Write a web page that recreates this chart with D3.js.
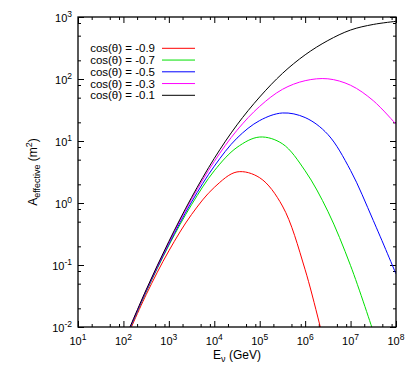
<!DOCTYPE html>
<html><head><meta charset="utf-8">
<script src="https://cdn.jsdelivr.net/npm/d3@7"></script>
<style>
body{margin:0;background:#fff}
svg{display:block;font-family:"Liberation Sans",Arial,Helvetica,sans-serif}
</style>
</head><body>
<svg id="chart" width="415" height="368"></svg>
<script>
// ---- data ----
const energies = [1e2, 3.162e2, 1e3, 3.162e3, 1e4, 3.162e4, 1e5, 3.162e5, 1e6, 3.162e6, 1e7, 3.162e7, 1e8];
const seriesLabels = ["cos(θ) = -0.9", "cos(θ) = -0.7", "cos(θ) = -0.5", "cos(θ) = -0.3", "cos(θ) = -0.1"];
const aCosM09 = [0.00507, 0.0332, 0.169, 0.653, 1.786, 3.170, 2.553, 0.895, 0.0838, 0.00310, null, null, null];
const aCosM07 = [0.00537, 0.0367, 0.2075, 0.940, 3.311, 7.889, 11.59, 9.016, 3.304, 0.7345, 0.0977, 0.00841, null];
const aCosM05 = [0.00545, 0.0376, 0.2168, 1.038, 3.926, 11.12, 21.38, 28.31, 23.88, 12.76, 3.350, 0.5224, 0.0718];
const aCosM03 = [0.00555, 0.0389, 0.2307, 1.148, 4.677, 14.89, 36.22, 68.08, 93.97, 100.7, 79.25, 44.67, 18.62];
const aCosM01 = [0.00562, 0.0398, 0.2399, 1.230, 5.248, 18.20, 51.29, 123.0, 245.5, 416.9, 616.6, 758.6, 851.1];
const xMajorTicks = [1e1, 1e2, 1e3, 1e4, 1e5, 1e6, 1e7, 1e8];
const yMajorTicks = [1e-2, 1e-1, 1e0, 1e1, 1e2, 1e3];
const minorMultipliers = [2, 5, 8];

// ---- styles ----
const colors = ["#ff0000", "#00e000", "#0000ff", "#ff00ff", "#000000"];
const seriesValues = [aCosM09, aCosM07, aCosM05, aCosM03, aCosM01];

const svg = d3.select("#chart");
const L = 78, R = 396, T = 17, B = 327;
const x = d3.scaleLog().domain([1e1, 1e8]).range([L, R]);
const y = d3.scaleLog().domain([1e-2, 1e3]).range([B, T]);

const minorOf = majors => {
  const out = [];
  majors.slice(0, -1).forEach(m => minorMultipliers.forEach(k => out.push(m * k)));
  return out;
};
const xMinor = minorOf(xMajorTicks), yMinor = minorOf(yMajorTicks);

function axisGroup(gen, tx, ty) {
  const g = svg.append("g").attr("transform", `translate(${tx},${ty})`).call(gen);
  g.select(".domain").remove();
  g.selectAll("line").attr("stroke", "#000").attr("stroke-width", 1);
  g.selectAll("text").remove();
  return g;
}
const maj = 6, mnr = 3;
axisGroup(d3.axisBottom(x).tickValues(xMajorTicks).tickSize(-maj).tickSizeOuter(0), 0, B);
axisGroup(d3.axisBottom(x).tickValues(xMinor).tickSize(-mnr).tickSizeOuter(0), 0, B);
axisGroup(d3.axisTop(x).tickValues(xMajorTicks).tickSize(-maj).tickSizeOuter(0), 0, T);
axisGroup(d3.axisTop(x).tickValues(xMinor).tickSize(-mnr).tickSizeOuter(0), 0, T);
axisGroup(d3.axisLeft(y).tickValues(yMajorTicks).tickSize(-maj).tickSizeOuter(0), L, 0);
axisGroup(d3.axisLeft(y).tickValues(yMinor).tickSize(-mnr).tickSizeOuter(0), L, 0);
axisGroup(d3.axisRight(y).tickValues(yMajorTicks).tickSize(-maj).tickSizeOuter(0), R, 0);
axisGroup(d3.axisRight(y).tickValues(yMinor).tickSize(-mnr).tickSizeOuter(0), R, 0);

// tick labels
xMajorTicks.forEach(v => {
  const t = svg.append("text").attr("x", x(v)).attr("y", 345).attr("text-anchor", "middle")
    .attr("font-size", 11).attr("fill", "#000");
  t.append("tspan").text("10");
  t.append("tspan").attr("dy", -5).attr("font-size", 8.5).text(Math.round(Math.log10(v)));
});
yMajorTicks.forEach(v => {
  const t = svg.append("text").attr("x", 72).attr("y", y(v) + 4.5).attr("text-anchor", "end")
    .attr("font-size", 11).attr("fill", "#000");
  t.append("tspan").text("10");
  t.append("tspan").attr("dy", -5).attr("font-size", 8.5).text(Math.round(Math.log10(v)));
});

// axis titles
const xt = svg.append("text").attr("x", 237).attr("y", 359).attr("text-anchor", "middle").attr("font-size", 12);
xt.append("tspan").text("E");
xt.append("tspan").attr("dy", 3).attr("font-size", 9).text("ν");
xt.append("tspan").attr("dy", -3).text(" (GeV)");

const yt = svg.append("text").attr("transform", "translate(37,172) rotate(-90)")
  .attr("text-anchor", "middle").attr("font-size", 12);
yt.append("tspan").text("A");
yt.append("tspan").attr("dy", 3).attr("font-size", 9).text("effective");
yt.append("tspan").attr("dy", -3).text(" (m");
yt.append("tspan").attr("dy", -5).attr("font-size", 9).text("2");
yt.append("tspan").attr("dy", 5).text(")");

// curves
svg.append("clipPath").attr("id", "clip").append("rect")
  .attr("x", L).attr("y", T).attr("width", R - L).attr("height", B - T);
const line = d3.line()
  .defined(d => d[1] != null)
  .x(d => x(d[0])).y(d => y(d[1]))
  .curve(d3.curveCatmullRom.alpha(0.5));
seriesValues.forEach((vals, i) => {
  svg.append("path").attr("clip-path", "url(#clip)")
    .attr("d", line(energies.map((e, j) => [e, vals[j]])))
    .attr("fill", "none").attr("stroke", colors[i]).attr("stroke-width", 1);
});

// legend
seriesLabels.forEach((lab, i) => {
  const cy = 48.3 + i * 11.75;
  svg.append("text").attr("x", 155).attr("y", cy + 4).attr("text-anchor", "end")
    .attr("font-size", 11.5).text(lab);
  svg.append("line").attr("x1", 162).attr("x2", 195).attr("y1", cy).attr("y2", cy)
    .attr("stroke", colors[i]).attr("stroke-width", 1);
});

// frame
svg.append("rect").attr("x", L).attr("y", T).attr("width", R - L).attr("height", B - T)
  .attr("fill", "none").attr("stroke", "#000").attr("stroke-width", 1.3);
</script>
</body></html>
